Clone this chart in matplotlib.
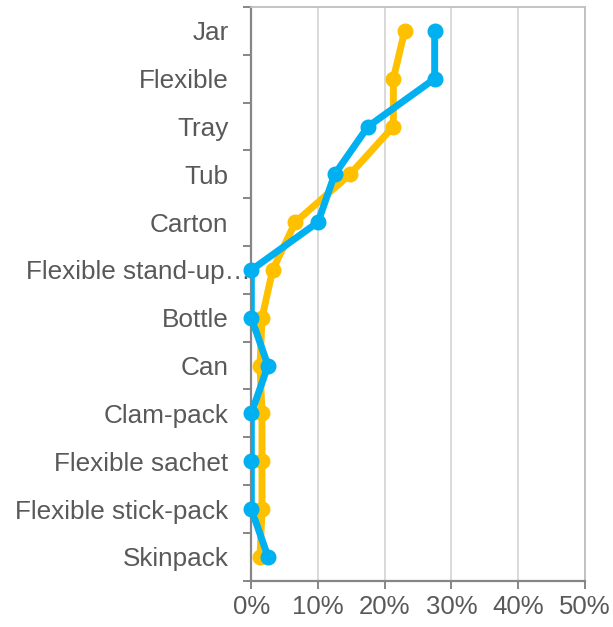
import matplotlib
matplotlib.use("Agg")
import matplotlib.pyplot as plt
import numpy as np
from matplotlib.ticker import FixedLocator, PercentFormatter
from matplotlib.transforms import ScaledTranslation

plt.rcParams['font.family'] = ['Liberation Sans', 'DejaVu Sans']

categories = ["Jar", "Flexible", "Tray", "Tub", "Carton", "Flexible stand-up\u2026",
              "Bottle", "Can", "Clam-pack", "Flexible sachet", "Flexible stick-pack",
              "Skinpack"]
series_yellow = [23.0, 21.3, 21.3, 14.8, 6.6, 3.2, 1.6, 1.3, 1.6, 1.6, 1.6, 1.3]
series_blue = [27.5, 27.5, 17.5, 12.5, 10.0, 0.0, 0.0, 2.5, 0.0, 0.0, 0.0, 2.5]
x_ticks = [0, 10, 20, 30, 40, 50]

text_color = "#595959"
axis_color = "#868686"
frame_color = "#bfbfbf"
yellow = "#FFC000"
blue = "#00B0F0"

fig = plt.figure(figsize=(6.13, 6.27), dpi=100)
ax = fig.add_axes([0.41, 0.0738, 0.5438, 0.915])

y = np.arange(len(categories))
for values, color, z in [(series_yellow, yellow, 3), (series_blue, blue, 5)]:
    ax.plot(values, y, color=color, lw=5.0, solid_joinstyle="round",
            solid_capstyle="round", zorder=z)
    ax.plot(values, y, ls="none", marker="o", ms=10.5, color=color,
            clip_on=False, zorder=z + 0.5)

ax.set_xlim(0, 50)
ax.set_ylim(len(categories) - 0.5, -0.5)

ax.set_xticks(x_ticks)
ax.xaxis.set_major_formatter(PercentFormatter(decimals=0))
ax.set_yticks(y)
ax.set_yticklabels(categories)
ax.yaxis.set_minor_locator(FixedLocator(np.arange(-0.5, len(categories), 1.0)))

ax.tick_params(axis="y", which="major", length=0, pad=16.5,
               labelsize=18.8, labelcolor=text_color)
ax.tick_params(axis="y", which="minor", length=6, width=1.4, color=axis_color,
               direction="out")
ax.tick_params(axis="x", which="major", length=5.5, width=1.4, color=axis_color,
               pad=5, labelsize=18.5, labelcolor=text_color)

# the truncated label keeps its ellipsis hanging past the label column
for lbl in ax.get_yticklabels():
    if lbl.get_text().endswith("\u2026"):
        lbl.set_transform(lbl.get_transform() +
                          ScaledTranslation(0.22, 0, fig.dpi_scale_trans))

ax.grid(axis="x", color="#d9d9d9", lw=1.4, zorder=0)
ax.set_axisbelow(True)

ax.spines["left"].set_color(axis_color)
ax.spines["left"].set_linewidth(1.6)
ax.spines["bottom"].set_color(axis_color)
ax.spines["bottom"].set_linewidth(1.6)
ax.spines["top"].set_color(frame_color)
ax.spines["top"].set_linewidth(1.3)
ax.spines["right"].set_color(frame_color)
ax.spines["right"].set_linewidth(1.3)

fig.savefig("out.png", dpi=100)
